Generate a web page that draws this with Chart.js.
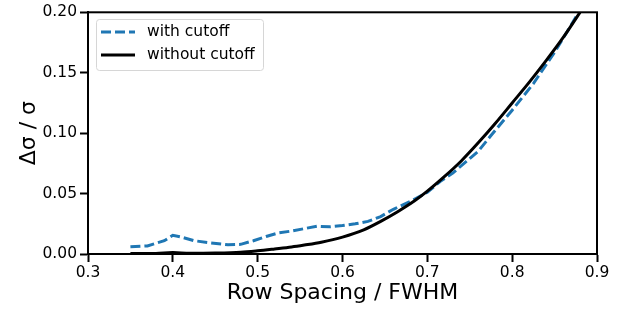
<!DOCTYPE html>
<html>
<head>
<meta charset="utf-8">
<script src="https://cdn.jsdelivr.net/npm/chart.js@4"></script>
<style>
  html, body { margin: 0; padding: 0; background: #fff; }
  #wrap { width: 620px; height: 309px; }
</style>
</head>
<body>
<div id="wrap"><canvas id="chart" width="620" height="309"></canvas></div>
<script>
// Данные с картинки
const cutX = [0.35, 0.37, 0.39, 0.40, 0.41, 0.425, 0.445, 0.465, 0.48, 0.495, 0.51, 0.525, 0.54, 0.555, 0.57, 0.585, 0.60, 0.615, 0.63, 0.645, 0.66, 0.68, 0.70, 0.715, 0.73, 0.745, 0.76, 0.775, 0.80, 0.825, 0.85, 0.87, 0.88];
const cutY = [0.006, 0.0067, 0.011, 0.0155, 0.014, 0.011, 0.0092, 0.0077, 0.008, 0.011, 0.0145, 0.0175, 0.019, 0.021, 0.023, 0.0225, 0.0235, 0.025, 0.027, 0.031, 0.037, 0.0436, 0.051, 0.060, 0.067, 0.076, 0.085, 0.098, 0.119, 0.141, 0.167, 0.19, 0.202];

const noCutX = [0.35, 0.38, 0.40, 0.42, 0.45, 0.48, 0.50, 0.52, 0.54, 0.555, 0.575, 0.60, 0.625, 0.645, 0.665, 0.685, 0.70, 0.72, 0.74, 0.76, 0.78, 0.80, 0.82, 0.84, 0.86, 0.88];
const noCutY = [0.0004, 0.0005, 0.0012, 0.0006, 0.0008, 0.0015, 0.0027, 0.0042, 0.0058, 0.0074, 0.0098, 0.014, 0.020, 0.027, 0.035, 0.044, 0.052, 0.064, 0.077, 0.092, 0.108, 0.125, 0.142, 0.160, 0.179, 0.200];

const xTicks = [0.3, 0.4, 0.5, 0.6, 0.7, 0.8, 0.9];
const yTicks = [0.00, 0.05, 0.10, 0.15, 0.20];

const FONT = "'DejaVu Sans', sans-serif";

const toPoints = (xs, ys) => xs.map((x, i) => ({ x: x, y: ys[i] }));

// рамка вокруг области графика
const framePlugin = {
    id: 'frame',
    afterDatasetsDraw(chart) {
        const { ctx, chartArea: a } = chart;
        ctx.save();
        ctx.strokeStyle = '#000';
        ctx.lineWidth = 2;
        ctx.strokeRect(a.left, a.top, a.right - a.left, a.bottom - a.top);
        ctx.restore();
    }
};

// легенда внутри графика, как в matplotlib
const innerLegend = {
    id: 'innerLegend',
    afterDraw(chart) {
        const { ctx } = chart;
        const x0 = 96, y0 = 19, w = 167, h = 51, r = 3;
        ctx.save();
        ctx.beginPath();
        ctx.roundRect(x0 + 0.5, y0 + 0.5, w, h, r);
        ctx.fillStyle = 'rgba(255,255,255,0.8)';
        ctx.fill();
        ctx.strokeStyle = '#d6d6d6';
        ctx.lineWidth = 1;
        ctx.stroke();
        ctx.font = '15.5px ' + FONT;
        ctx.textBaseline = 'middle';
        chart.data.datasets.forEach((ds, i) => {
            const y = 32 + i * 23;
            ctx.beginPath();
            ctx.setLineDash(ds.borderDash || []);
            ctx.strokeStyle = ds.borderColor;
            ctx.lineWidth = ds.borderWidth;
            ctx.moveTo(101, y);
            ctx.lineTo(135, y);
            ctx.stroke();
            ctx.setLineDash([]);
            ctx.fillStyle = '#000';
            ctx.fillText(ds.label, 147, y);
        });
        ctx.restore();
    }
};

new Chart(document.getElementById('chart'), {
    type: 'line',
    data: {
        datasets: [{
            label: 'with cutoff',
            data: toPoints(cutX, cutY),
            borderColor: '#1f77b4',
            borderWidth: 3,
            borderDash: [10, 4],
            pointRadius: 0,
            tension: 0,
            order: 1
        }, {
            label: 'without cutoff',
            data: toPoints(noCutX, noCutY),
            borderColor: '#000',
            borderWidth: 3,
            pointRadius: 0,
            cubicInterpolationMode: 'monotone',
            order: 0
        }]
    },
    options: {
        responsive: false,
        animation: false,
        layout: { padding: { left: 0, right: 23, top: 12, bottom: 0 } },
        plugins: {
            legend: { display: false },
            tooltip: { enabled: false }
        },
        scales: {
            x: {
                type: 'linear',
                min: 0.3,
                max: 0.9,
                afterFit(scale) { scale.height = 55; },
                afterBuildTicks(scale) { scale.ticks = xTicks.map(v => ({ value: v })); },
                ticks: {
                    color: '#000',
                    font: { family: FONT, size: 15.5 },
                    padding: 2,
                    maxRotation: 0,
                    callback: v => v.toFixed(1)
                },
                grid: {
                    drawOnChartArea: false,
                    drawTicks: true,
                    tickLength: 8,
                    tickWidth: 2,
                    tickColor: '#000'
                },
                border: { display: true, color: '#000', width: 2 },
                title: {
                    display: true,
                    text: 'Row Spacing / FWHM',
                    color: '#000',
                    font: { family: FONT, size: 22 },
                    padding: { top: 0, bottom: 3 }
                }
            },
            y: {
                min: 0,
                max: 0.2,
                afterFit(scale) { scale.width = 88; },
                afterBuildTicks(scale) { scale.ticks = yTicks.map(v => ({ value: v })); },
                ticks: {
                    color: '#000',
                    font: { family: FONT, size: 15.5 },
                    padding: 3,
                    callback: v => v.toFixed(2)
                },
                grid: {
                    drawOnChartArea: false,
                    drawTicks: true,
                    tickLength: 8,
                    tickWidth: 2,
                    tickColor: '#000'
                },
                border: { display: true, color: '#000', width: 2 },
                title: {
                    display: true,
                    text: 'Δσ / σ',
                    color: '#000',
                    font: { family: FONT, size: 22 },
                    padding: { top: 16, bottom: 0 }
                }
            }
        }
    },
    plugins: [framePlugin, innerLegend]
});
</script>
</body>
</html>
